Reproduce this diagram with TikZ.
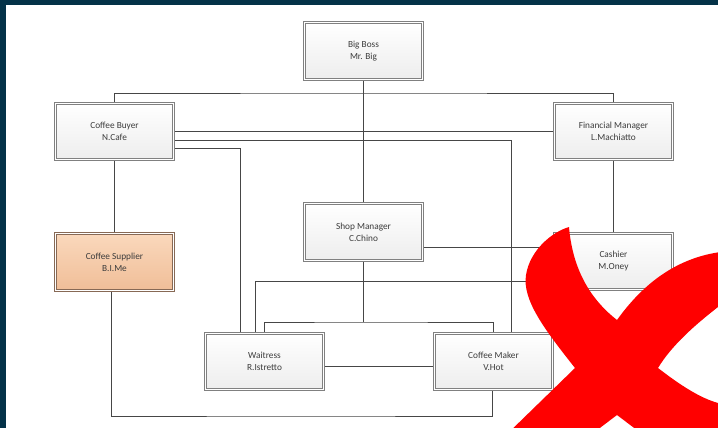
\documentclass[tikz,border=0pt]{standalone}
\usepackage{fontspec}
\setmainfont{Carlito}
\usetikzlibrary{shadows}
\definecolor{framecol}{RGB}{4,50,72}
\definecolor{boxline}{RGB}{128,128,128}
\definecolor{conn}{RGB}{70,70,70}
\definecolor{txt}{RGB}{60,60,60}
\definecolor{peachtop}{RGB}{250,216,188}
\definecolor{peachbot}{RGB}{240,190,152}
\definecolor{peachline}{RGB}{135,105,85}
\definecolor{xred}{RGB}{255,0,0}
\pgfdeclarelayer{bg}
\pgfdeclarelayer{links}
\pgfsetlayers{bg,links,main}
\begin{document}
\begin{tikzpicture}[x=1pt,y=-1pt,
  role/.style={rectangle, minimum width=118pt, minimum height=56.5pt,
    inner sep=0pt, align=center, font=\fontsize{9.3}{12}\selectfont,
    text=txt, draw=boxline, line width=0.8pt, double=white,
    double distance=1.1pt, top color=white, bottom color=gray!14,
    drop shadow={shadow xshift=1.6pt, shadow yshift=-1.6pt, fill=black!14}},
  supplierrole/.style={role, draw=peachline, top color=peachtop, bottom color=peachbot},
  link/.style={draw=conn, line width=0.8pt}]

% page frame
\begin{pgfonlayer}{bg}
  \fill[framecol] (0,0) rectangle (718,428);
  \fill[white] (6,5) rectangle (718,428);
\end{pgfonlayer}
\useasboundingbox (0,0) rectangle (718,428);

% roles
\node[role] (boss) at (363.5,51) {Big Boss\\Mr. Big};
\node[role] (buyer) at (114.5,131.5) {Coffee Buyer\\N.Cafe};
\node[role] (fin) at (613.5,131.5) {Financial Manager\\L.Machiatto};
\node[supplierrole] (supplier) at (114.5,262) {Coffee Supplier\\B.I.Me};
\node[role] (shop) at (363.5,232) {Shop Manager\\C.Chino};
\node[role] (cashier) at (613.5,261.5) {Cashier\\M.Oney};
\node[role] (waitress) at (264.5,361.5) {Waitress\\R.Istretto};
\node[role] (maker) at (493.5,361.5) {Coffee Maker\\V.Hot};

% bus points
\coordinate (topbus) at (363.5,93);
\coordinate (shopbus) at (363.5,322);
\coordinate (lowbus) at (300,416);

% connectors
\begin{pgfonlayer}{links}
  \draw[link] (boss.south) -- (shop.north);
  \draw[link] (buyer.north) |- (topbus) -| (fin.north);
  \draw[link] (buyer.south) -- (supplier.north);
  \draw[link] (buyer.east) -- (fin.west);
  \draw[link] ([yshift=-9pt]buyer.east) -| ([xshift=18pt]maker.north);
  \draw[link] ([yshift=-17pt]buyer.east) -| ([xshift=-24pt]waitress.north);
  \draw[link] (shop.south) -- (shopbus);
  \draw[link] (waitress.north) |- (shopbus) -| (maker.north);
  \draw[link] ([yshift=-15pt]shop.east) -- ([yshift=-15pt]shop.east -| cashier.west);
  \draw[link] ([xshift=-9pt]waitress.north) |- ([yshift=-20pt]cashier.west);
  \draw[link] (fin.south) -- (cashier.north);
  \draw[link] ([yshift=-5pt]waitress.east) -- ([yshift=-5pt]waitress.east -| maker.west);
  \draw[link] ([xshift=-3pt]supplier.south) |- (lowbus) -| ([xshift=-1pt]maker.south);
\end{pgfonlayer}

% red cross
\begin{scope}
  \clip (0,0) rectangle (718,428);
  \fill[xred] (569,227) .. controls (572,262) and (585,295) .. (617,320)
    .. controls (640,288) and (675,255) .. (730,251)
    -- (730,300) -- (718,307)
    .. controls (695,325) and (672,345) .. (658,368)
    .. controls (680,385) and (700,398) .. (718,403)
    -- (730,408) -- (730,440) -- (650,440) -- (617,415) -- (584,440) -- (501,440)
    -- (575,368)
    .. controls (545,330) and (522,300) .. (526,275)
    .. controls (530,250) and (552,232) .. (569,227) -- cycle;
\end{scope}
\end{tikzpicture}
\end{document}
